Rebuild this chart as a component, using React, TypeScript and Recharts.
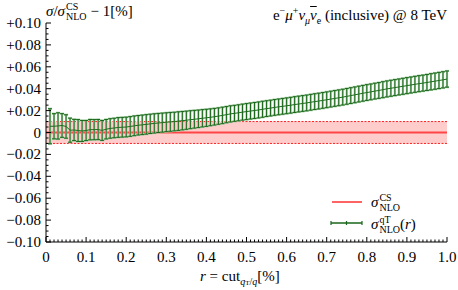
import React from 'react';
import { ComposedChart, Line, ErrorBar, XAxis, YAxis, ReferenceArea, ReferenceLine } from 'recharts';

// r = cut values (%)
const rValues = [
  0.01, 0.02, 0.03, 0.04, 0.05, 0.06, 0.07, 0.08, 0.09, 0.10,
  0.11, 0.12, 0.13, 0.14, 0.15, 0.16, 0.17, 0.18, 0.19, 0.20,
  0.21, 0.22, 0.23, 0.24, 0.25, 0.26, 0.27, 0.28, 0.29, 0.30,
  0.31, 0.32, 0.33, 0.34, 0.35, 0.36, 0.37, 0.38, 0.39, 0.40,
  0.41, 0.42, 0.43, 0.44, 0.45, 0.46, 0.47, 0.48, 0.49, 0.50,
  0.51, 0.52, 0.53, 0.54, 0.55, 0.56, 0.57, 0.58, 0.59, 0.60,
  0.61, 0.62, 0.63, 0.64, 0.65, 0.66, 0.67, 0.68, 0.69, 0.70,
  0.71, 0.72, 0.73, 0.74, 0.75, 0.76, 0.77, 0.78, 0.79, 0.80,
  0.81, 0.82, 0.83, 0.84, 0.85, 0.86, 0.87, 0.88, 0.89, 0.90,
  0.91, 0.92, 0.93, 0.94, 0.95, 0.96, 0.97, 0.98, 0.99, 1.00,
];

// sigma_NLO^{qT}(r) / sigma_NLO^{CS} - 1
const qtCentral = [
  0.0057, 0.0057, 0.0060, 0.0064, 0.0055, 0.0021, 0.0023, 0.0018, 0.0014, 0.0018,
  0.0026, 0.0026, 0.0027, 0.0019, 0.0030, 0.0037, 0.0041, 0.0046, 0.0048, 0.0050,
  0.0055, 0.0061, 0.0066, 0.0070, 0.0074, 0.0079, 0.0083, 0.0087, 0.0090, 0.0094,
  0.0097, 0.0100, 0.0104, 0.0108, 0.0112, 0.0117, 0.0121, 0.0125, 0.0130, 0.0134,
  0.0139, 0.0144, 0.0150, 0.0156, 0.0163, 0.0170, 0.0175, 0.0180, 0.0186, 0.0191,
  0.0196, 0.0201, 0.0206, 0.0212, 0.0218, 0.0223, 0.0229, 0.0234, 0.0239, 0.0244,
  0.0249, 0.0255, 0.0260, 0.0265, 0.0270, 0.0276, 0.0282, 0.0287, 0.0293, 0.0299,
  0.0305, 0.0311, 0.0317, 0.0323, 0.0330, 0.0337, 0.0344, 0.0351, 0.0358, 0.0365,
  0.0371, 0.0378, 0.0384, 0.0391, 0.0398, 0.0404, 0.0410, 0.0416, 0.0422, 0.0428,
  0.0434, 0.0440, 0.0446, 0.0451, 0.0457, 0.0463, 0.0469, 0.0475, 0.0481, 0.0488,
];

const qtError = [
  0.0160, 0.0115, 0.0120, 0.0108, 0.0107, 0.0110, 0.0097, 0.0100, 0.0096, 0.0092,
  0.0093, 0.0092, 0.0092, 0.0091, 0.0089, 0.0089, 0.0089, 0.0090, 0.0090, 0.0090,
  0.0090, 0.0090, 0.0089, 0.0089, 0.0089, 0.0088, 0.0088, 0.0087, 0.0087, 0.0086,
  0.0086, 0.0085, 0.0085, 0.0084, 0.0083, 0.0082, 0.0081, 0.0080, 0.0079, 0.0078,
  0.0077, 0.0076, 0.0075, 0.0075, 0.0074, 0.0074, 0.0073, 0.0073, 0.0073, 0.0073,
  0.0073, 0.0073, 0.0073, 0.0073, 0.0072, 0.0072, 0.0072, 0.0072, 0.0072, 0.0072,
  0.0072, 0.0072, 0.0072, 0.0072, 0.0072, 0.0072, 0.0072, 0.0072, 0.0072, 0.0072,
  0.0072, 0.0072, 0.0072, 0.0072, 0.0072, 0.0072, 0.0072, 0.0072, 0.0072, 0.0072,
  0.0072, 0.0072, 0.0072, 0.0073, 0.0073, 0.0073, 0.0073, 0.0073, 0.0073, 0.0073,
  0.0073, 0.0073, 0.0073, 0.0073, 0.0073, 0.0074, 0.0074, 0.0074, 0.0074, 0.0074,
];

// sigma_NLO^{CS} reference band
const csCentral = 0;
const csUpper = 0.01;
const csLower = -0.01;

const xMajorTicks = [0, 0.1, 0.2, 0.3, 0.4, 0.5, 0.6, 0.7, 0.8, 0.9, 1.0];
const yMajorTicks = [-0.1, -0.08, -0.06, -0.04, -0.02, 0, 0.02, 0.04, 0.06, 0.08, 0.1];

const xTicks: number[] = [];
for (let i = 0; i <= 100; i++) xTicks.push(Math.round(i) / 100);
const yTicks: number[] = [];
for (let i = -20; i <= 20; i++) yTicks.push(Math.round(i * 5) / 1000);

const data = rValues.map((r, i) => ({ r, v: qtCentral[i], e: qtError[i] }));

const FONT = "'Liberation Serif', 'DejaVu Serif', serif";
const isMajor = (v: number, list: number[]) => list.some((m) => Math.abs(m - v) < 1e-9);
const xLabel = (v: number) => (Math.abs(v) < 1e-9 ? '0' : v.toFixed(1));
const yLabel = (v: number) =>
  Math.abs(v) < 1e-9 ? '0' : (v > 0 ? '+' : '\u2212') + Math.abs(v).toFixed(2);

const BottomTick = (p: any) => {
  const { x, y, payload } = p;
  const major = isMajor(payload.value, xMajorTicks);
  return (
    <g>
      <line x1={x} x2={x} y1={y} y2={y - (major ? 5 : 2.5)} stroke="#000" strokeWidth={1} />
      {major && (
        <text x={x} y={y + 20} textAnchor="middle" style={{ fontFamily: FONT }} fontSize={15} fill="#000">
          {xLabel(payload.value)}
        </text>
      )}
    </g>
  );
};
const TopTick = (p: any) => {
  const { x, y, payload } = p;
  const major = isMajor(payload.value, xMajorTicks);
  return <line x1={x} x2={x} y1={y} y2={y + (major ? 5 : 2.5)} stroke="#000" strokeWidth={1} />;
};
const LeftTick = (p: any) => {
  const { x, y, payload } = p;
  const major = isMajor(payload.value, yMajorTicks);
  return (
    <g>
      <line x1={x} x2={x + (major ? 5 : 2.5)} y1={y} y2={y} stroke="#000" strokeWidth={1} />
      {major && (
        <text x={x - 5} y={y + 5} textAnchor="end" style={{ fontFamily: FONT }} fontSize={15} fill="#000">
          {yLabel(payload.value)}
        </text>
      )}
    </g>
  );
};
const RightTick = (p: any) => {
  const { x, y, payload } = p;
  const major = isMajor(payload.value, yMajorTicks);
  return <line x1={x} x2={x - (major ? 5 : 2.5)} y1={y} y2={y} stroke="#000" strokeWidth={1} />;
};

const stack = (sup: string, sub: string) => (
  <span
    style={{
      display: 'inline-flex',
      flexDirection: 'column',
      fontSize: 10,
      lineHeight: '10px',
      verticalAlign: 6,
      marginLeft: 1,
    }}
  >
    <span>{sup}</span>
    <span>{sub}</span>
  </span>
);

const textBox: React.CSSProperties = {
  position: 'absolute',
  fontSize: 15,
  whiteSpace: 'nowrap',
  lineHeight: '20px',
  fontFamily: FONT,
};

export default function App() {
  return (
    <div style={{ position: 'absolute', left: 0, top: 0, width: 458, height: 290, fontFamily: FONT, background: '#fff' }}>
      <ComposedChart width={458} height={290} data={data} margin={{ top: 23, right: 11, bottom: 0, left: 0 }}>
        <XAxis
          xAxisId="bottom"
          dataKey="r"
          type="number"
          domain={[0, 1]}
          ticks={xTicks}
          interval={0}
          tickSize={0}
          tickMargin={0}
          tickLine={false}
          height={48}
          stroke="#000"
          tick={(p: any) => <BottomTick {...p} />}
        />
        <XAxis
          xAxisId="top"
          orientation="top"
          dataKey="r"
          type="number"
          domain={[0, 1]}
          ticks={xTicks}
          interval={0}
          tickSize={0}
          tickMargin={0}
          tickLine={false}
          height={0}
          stroke="#000"
          tick={(p: any) => <TopTick {...p} />}
        />
        <YAxis
          yAxisId="left"
          type="number"
          domain={[-0.1, 0.1]}
          ticks={yTicks}
          interval={0}
          tickSize={0}
          tickMargin={0}
          tickLine={false}
          width={46}
          stroke="#000"
          allowDataOverflow
          tick={(p: any) => <LeftTick {...p} />}
        />
        <YAxis
          yAxisId="right"
          orientation="right"
          type="number"
          domain={[-0.1, 0.1]}
          ticks={yTicks}
          interval={0}
          tickSize={0}
          tickMargin={0}
          tickLine={false}
          width={0}
          stroke="#000"
          allowDataOverflow
          tick={(p: any) => <RightTick {...p} />}
        />
        <ReferenceArea xAxisId="bottom" yAxisId="left" x1={0} x2={1} y1={csLower} y2={csUpper} fill="#ffcccc" fillOpacity={1} stroke="none" />
        <ReferenceLine xAxisId="bottom" yAxisId="left" y={csUpper} stroke="#ff2020" strokeWidth={1} strokeDasharray="2 1.5" />
        <ReferenceLine xAxisId="bottom" yAxisId="left" y={csLower} stroke="#ff2020" strokeWidth={1} strokeDasharray="2 1.5" />
        <ReferenceLine xAxisId="bottom" yAxisId="left" y={csCentral} stroke="#ff4545" strokeWidth={2} />
        <Line
          xAxisId="bottom"
          yAxisId="left"
          dataKey="v"
          stroke="#1d6e1d"
          strokeWidth={1}
          dot={false}
          isAnimationActive={false}
        >
          <ErrorBar dataKey="e" direction="y" width={2} stroke="#a9d2a9" strokeWidth={2.2} isAnimationActive={false} />
          <ErrorBar dataKey="e" direction="y" width={2} stroke="#1a661a" strokeWidth={1} isAnimationActive={false} />
        </Line>
      </ComposedChart>

      {/* top-left title */}
      <div style={{ ...textBox, left: 46, top: 1 }}>
        <i>σ</i>/<i>σ</i>
        {stack('CS', 'NLO')}
        <span style={{ marginLeft: 4 }}>− 1[%]</span>
      </div>

      {/* top-right title */}
      <div style={{ ...textBox, right: 11, top: 1 }}>
        e<sup style={{ fontSize: 10 }}>−</sup>
        <i>μ</i>
        <sup style={{ fontSize: 10 }}>+</sup>
        <i>ν</i>
        <sub style={{ fontSize: 10 }}>
          <i>μ</i>
        </sub>
        <i style={{ textDecoration: 'overline' }}>ν</i>
        <sub style={{ fontSize: 10 }}>e</sub> (inclusive) @ 8 TeV
      </div>

      {/* legend */}
      <svg style={{ position: 'absolute', left: 0, top: 0 }} width={458} height={290}>
        <line x1={332} x2={362} y1={202} y2={202} stroke="#ff3030" strokeWidth={1.5} />
        <line x1={331} x2={362} y1={223} y2={223} stroke="#1a661a" strokeWidth={1.5} />
        <line x1={331} x2={331} y1={221} y2={225} stroke="#1a661a" strokeWidth={1.2} />
        <line x1={346.5} x2={346.5} y1={221} y2={225} stroke="#1a661a" strokeWidth={1.2} />
        <line x1={362} x2={362} y1={221} y2={225} stroke="#1a661a" strokeWidth={1.2} />
      </svg>
      <div style={{ ...textBox, left: 371, top: 192 }}>
        <i>σ</i>
        {stack('CS', 'NLO')}
      </div>
      <div style={{ ...textBox, left: 371, top: 214 }}>
        <i>σ</i>
        {stack('qT', 'NLO')}
        (<i>r</i>)
      </div>

      {/* x axis title */}
      <div style={{ ...textBox, left: 200, top: 266 }}>
        <i>r</i> = cut
        <span style={{ fontSize: 10, position: 'relative', top: 4 }}>
          <i>q</i>
          <span style={{ fontSize: 7 }}>T</span>/<i>q</i>
        </span>
        [%]
      </div>
    </div>
  );
}
